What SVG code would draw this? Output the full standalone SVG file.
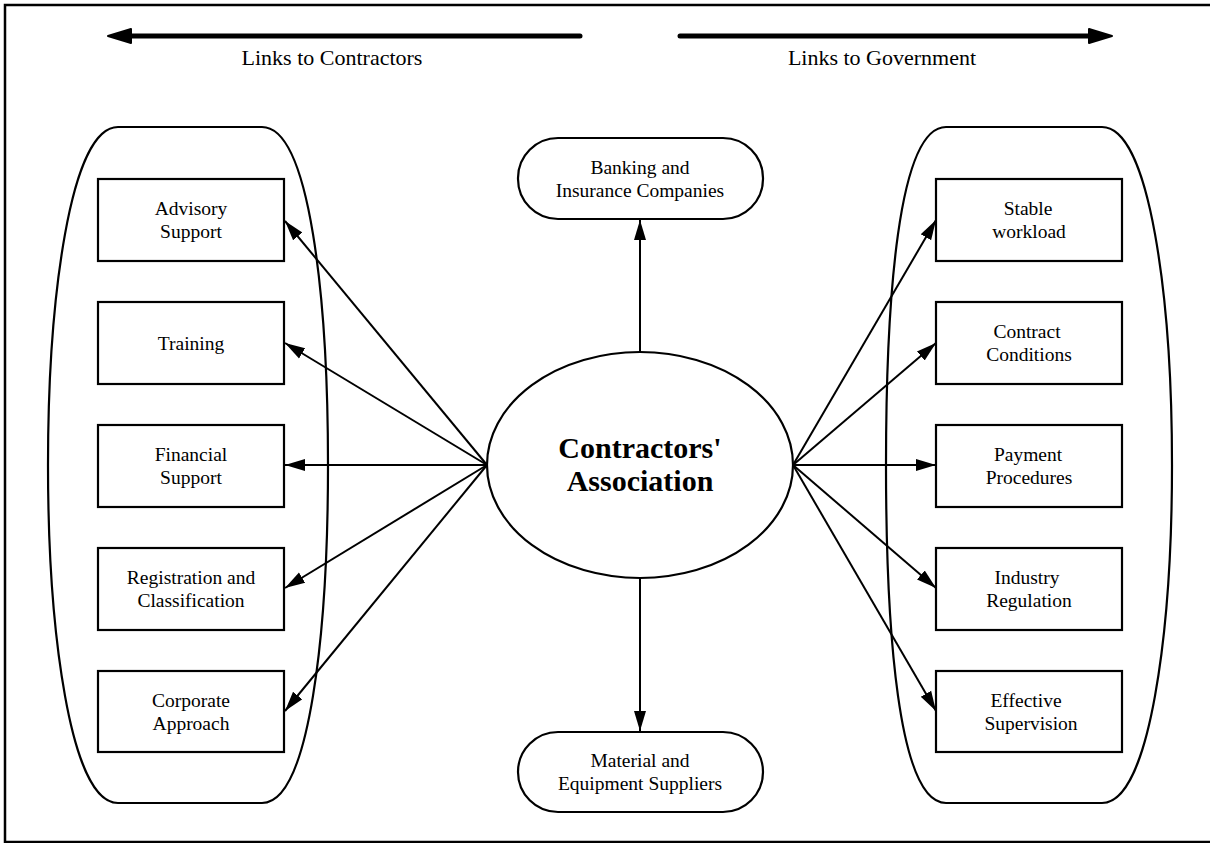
<svg xmlns="http://www.w3.org/2000/svg" width="1210" height="843" viewBox="0 0 1210 843">
  <style>
    .frame { fill: none; stroke: #000; stroke-width: 2.5; }
    .group { fill: none; stroke: #000; stroke-width: 2.2; }
    .box { fill: #fff; stroke: #000; stroke-width: 2.2; }
    .link { fill: none; stroke: #000; stroke-width: 2; }
    .axis { fill: none; stroke: #000; stroke-width: 5; stroke-linecap: round; }
    .head { fill: #000; stroke: #000; stroke-width: 2; stroke-linejoin: round; }
    text { font-family: "Liberation Serif", "Times New Roman", serif; fill: #000; text-anchor: middle; }
    .lbl { font-size: 19.5px; }
    .title { font-size: 22px; }
    .hub { font-size: 30px; font-weight: bold; }
  </style>
  <defs>
    <marker id="tip" markerUnits="userSpaceOnUse" markerWidth="22" markerHeight="14" refX="20" refY="6" orient="auto" viewBox="0 0 22 12">
      <path d="M0,0 L20,6 L0,12 Z" fill="#000"/>
    </marker>
  </defs>

  <rect width="1210" height="843" fill="#fff"/>
  <!-- outer frame, open on the right -->
  <path class="frame" d="M1212,5 L5,5 L5,842 L1212,842"/>

  <!-- direction banners -->
  <g id="banner-contractors">
    <line class="axis" x1="580" y1="36" x2="126" y2="36"/>
    <path class="head" d="M108,36 L131,29 L131,43 Z"/>
    <text class="title" x="332" y="65">Links to Contractors</text>
  </g>
  <g id="banner-government">
    <line class="axis" x1="680" y1="36" x2="1094" y2="36"/>
    <path class="head" d="M1112,36 L1089,29 L1089,43 Z"/>
    <text class="title" x="882" y="65">Links to Government</text>
  </g>

  <!-- grouping outlines -->
  <path id="contractors-group" class="group" d="M262,127 C310,127 328,300 328,465 C328,630 310,803 262,803 L118,803 C70,803 48,630 48,465 C48,300 70,127 118,127 Z"/>
  <path id="government-group" class="group" d="M1102,127 C1150,127 1172,300 1172,465 C1172,630 1150,803 1102,803 L946,803 C898,803 886,630 886,465 C886,300 898,127 946,127 Z"/>

  <!-- connectors -->
  <g id="connectors">
    <line class="link" x1="640" y1="352" x2="640" y2="220" marker-end="url(#tip)"/>
    <line class="link" x1="640" y1="578" x2="640" y2="731" marker-end="url(#tip)"/>
    <line class="link" x1="487" y1="465" x2="285" y2="221" marker-end="url(#tip)"/>
    <line class="link" x1="487" y1="465" x2="285" y2="343" marker-end="url(#tip)"/>
    <line class="link" x1="487" y1="465" x2="285" y2="465" marker-end="url(#tip)"/>
    <line class="link" x1="487" y1="465" x2="285" y2="588" marker-end="url(#tip)"/>
    <line class="link" x1="487" y1="465" x2="285" y2="711" marker-end="url(#tip)"/>
    <line class="link" x1="793" y1="465" x2="936" y2="220" marker-end="url(#tip)"/>
    <line class="link" x1="793" y1="465" x2="936" y2="343" marker-end="url(#tip)"/>
    <line class="link" x1="793" y1="465" x2="936" y2="465" marker-end="url(#tip)"/>
    <line class="link" x1="793" y1="465" x2="936" y2="588" marker-end="url(#tip)"/>
    <line class="link" x1="793" y1="465" x2="936" y2="711" marker-end="url(#tip)"/>
  </g>

  <!-- central node -->
  <g id="association">
    <ellipse class="box" cx="640" cy="465" rx="153" ry="113"/>
    <text class="hub" x="640" y="458">Contractors'</text>
    <text class="hub" x="640" y="491">Association</text>
  </g>

  <g id="banking">
    <rect class="box" x="518" y="138" width="245" height="81" rx="40" ry="40"/>
    <text class="lbl" x="640" y="174">Banking and</text>
    <text class="lbl" x="640" y="197">Insurance Companies</text>
  </g>
  <g id="suppliers">
    <rect class="box" x="518" y="732" width="245" height="80" rx="40" ry="40"/>
    <text class="lbl" x="640" y="767">Material and</text>
    <text class="lbl" x="640" y="790">Equipment Suppliers</text>
  </g>

  <!-- contractor-side services -->
  <g id="advisory">
    <rect class="box" x="98" y="179" width="186" height="82"/>
    <text class="lbl" x="191" y="215">Advisory</text>
    <text class="lbl" x="191" y="238">Support</text>
  </g>
  <g id="training">
    <rect class="box" x="98" y="302" width="186" height="82"/>
    <text class="lbl" x="191" y="350">Training</text>
  </g>
  <g id="financial">
    <rect class="box" x="98" y="425" width="186" height="82"/>
    <text class="lbl" x="191" y="461">Financial</text>
    <text class="lbl" x="191" y="484">Support</text>
  </g>
  <g id="registration">
    <rect class="box" x="98" y="548" width="186" height="82"/>
    <text class="lbl" x="191" y="584">Registration and</text>
    <text class="lbl" x="191" y="607">Classification</text>
  </g>
  <g id="corporate">
    <rect class="box" x="98" y="671" width="186" height="81"/>
    <text class="lbl" x="191" y="707">Corporate</text>
    <text class="lbl" x="191" y="730">Approach</text>
  </g>

  <!-- government-side issues -->
  <g id="workload">
    <rect class="box" x="936" y="179" width="186" height="82"/>
    <text class="lbl" x="1028" y="215">Stable</text>
    <text class="lbl" x="1029" y="238">workload</text>
  </g>
  <g id="conditions">
    <rect class="box" x="936" y="302" width="186" height="82"/>
    <text class="lbl" x="1027" y="338">Contract</text>
    <text class="lbl" x="1029" y="361">Conditions</text>
  </g>
  <g id="payment">
    <rect class="box" x="936" y="425" width="186" height="82"/>
    <text class="lbl" x="1028" y="461">Payment</text>
    <text class="lbl" x="1029" y="484">Procedures</text>
  </g>
  <g id="regulation">
    <rect class="box" x="936" y="548" width="186" height="82"/>
    <text class="lbl" x="1027" y="584">Industry</text>
    <text class="lbl" x="1029" y="607">Regulation</text>
  </g>
  <g id="supervision">
    <rect class="box" x="936" y="671" width="186" height="81"/>
    <text class="lbl" x="1026" y="707">Effective</text>
    <text class="lbl" x="1031" y="730">Supervision</text>
  </g>
</svg>
